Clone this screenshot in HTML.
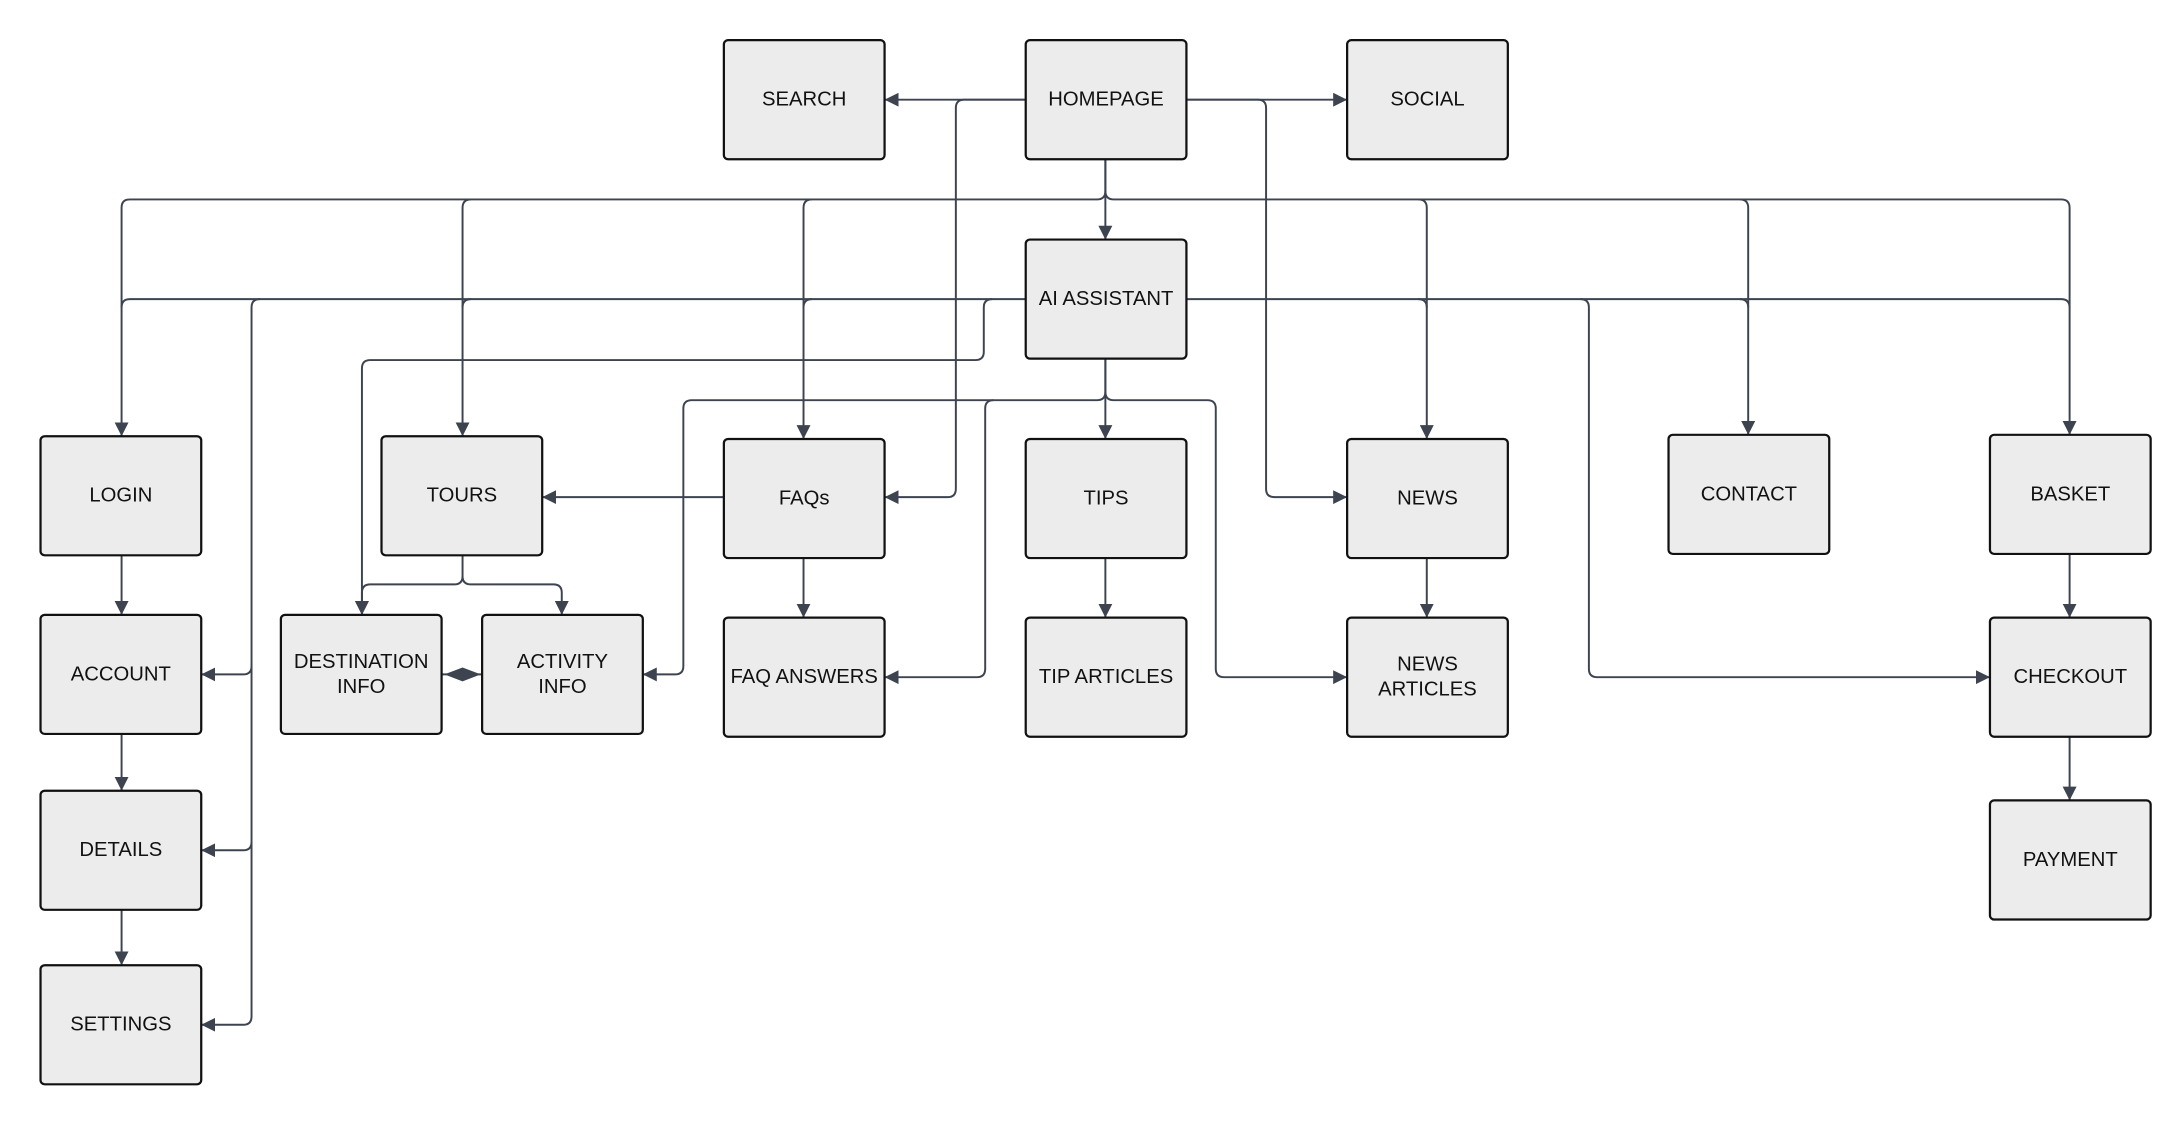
<!DOCTYPE html>
<html><head><meta charset="utf-8"><style>
html,body{margin:0;padding:0;background:#fff;width:2180px;height:1130px;overflow:hidden}
svg{display:block}
text{font-family:"Liberation Sans",sans-serif;font-size:14.5px;fill:#111;text-anchor:middle;dominant-baseline:central}
.b{fill:#ececec;stroke:#111;stroke-width:1.6}
.l{fill:none;stroke:#3d4450;stroke-width:1.4;stroke-linejoin:round}
</style></head><body>
<svg width="2180" height="1130" viewBox="0 0 1560 816" preserveAspectRatio="none">
<defs>
<marker id="a" markerUnits="userSpaceOnUse" markerWidth="12" markerHeight="10" refX="10" refY="5" orient="auto">
<path d="M0,0 L10,5 L0,10 z" fill="#3d4450"/></marker>
</defs>
<g class="l">
<!-- homepage side -->
<path d="M734,72 H633" marker-end="url(#a)"/>
<path d="M849,72 H964" marker-end="url(#a)"/>
<path d="M734,72 H690 Q684,72 684,78 V353 Q684,359 678,359 H633" marker-end="url(#a)"/>
<path d="M849,72 H900 Q906,72 906,78 V353 Q906,359 912,359 H964" marker-end="url(#a)"/>
<!-- homepage bottom bus -->
<path d="M791,115 V173" marker-end="url(#a)"/>
<path d="M791,115 V138 Q791,144 785,144 H93 Q87,144 87,150 V315" marker-end="url(#a)"/>
<path d="M337,144 Q331,144 331,150 V315" marker-end="url(#a)"/>
<path d="M581,144 Q575,144 575,150 V317" marker-end="url(#a)"/>
<path d="M791,138 Q791,144 797,144 H1475 Q1481,144 1481,150 V314" marker-end="url(#a)"/>
<path d="M1015,144 Q1021,144 1021,150 V317" marker-end="url(#a)"/>
<path d="M1245,144 Q1251,144 1251,150 V314" marker-end="url(#a)"/>
<!-- AI left -->
<path d="M734,216 H93 Q87,216 87,222"/>
<path d="M186,216 Q180,216 180,222 V734 Q180,740 174,740 H144" marker-end="url(#a)"/>
<path d="M180,481 Q180,487 174,487 H144" marker-end="url(#a)"/>
<path d="M180,608 Q180,614 174,614 H144" marker-end="url(#a)"/>
<path d="M337,216 Q331,216 331,222"/>
<path d="M581,216 Q575,216 575,222"/>
<path d="M710,216 Q704,216 704,222 V254 Q704,260 698,260 H265 Q259,260 259,266 V444" marker-end="url(#a)"/>
<!-- AI right -->
<path d="M849,216 H1475 Q1481,216 1481,222"/>
<path d="M1015,216 Q1021,216 1021,222"/>
<path d="M1245,216 Q1251,216 1251,222"/>
<path d="M1131,216 Q1137,216 1137,222 V483 Q1137,489 1143,489 H1424" marker-end="url(#a)"/>
<!-- AI bottom -->
<path d="M791,259 V317" marker-end="url(#a)"/>
<path d="M791,259 V283 Q791,289 785,289 H495 Q489,289 489,295 V481 Q489,487 483,487 H460" marker-end="url(#a)"/>
<path d="M711,289 Q705,289 705,295 V483 Q705,489 699,489 H633" marker-end="url(#a)"/>
<path d="M791,283 Q791,289 797,289 H864 Q870,289 870,295 V483 Q870,489 876,489 H964" marker-end="url(#a)"/>
<!-- tours -->
<path d="M518,359 H388" marker-end="url(#a)"/>
<path d="M331,401 V416 Q331,422 325,422 H265 Q259,422 259,428 V444" marker-end="url(#a)"/>
<path d="M331,416 Q331,422 337,422 H396 Q402,422 402,428 V444" marker-end="url(#a)"/>
<path d="M316,487 H345"/>
<!-- verticals -->
<path d="M87,401 V444" marker-end="url(#a)"/>
<path d="M87,530 V571" marker-end="url(#a)"/>
<path d="M87,657 V697" marker-end="url(#a)"/>
<path d="M575,403 V446" marker-end="url(#a)"/>
<path d="M791,403 V446" marker-end="url(#a)"/>
<path d="M1021,403 V446" marker-end="url(#a)"/>
<path d="M1481,400 V446" marker-end="url(#a)"/>
<path d="M1481,532 V578" marker-end="url(#a)"/>
</g>
<path d="M318,487 L331,482 L344,487 L331,492 z" fill="#3d4450"/>
<g>
<rect class="b" x="518" y="29" width="115" height="86" rx="3"/><text x="575.5" y="72">SEARCH</text>
<rect class="b" x="734" y="29" width="115" height="86" rx="3"/><text x="791.5" y="72">HOMEPAGE</text>
<rect class="b" x="964" y="29" width="115" height="86" rx="3"/><text x="1021.5" y="72">SOCIAL</text>
<rect class="b" x="734" y="173" width="115" height="86" rx="3"/><text x="791.5" y="216">AI ASSISTANT</text>
<rect class="b" x="29" y="315" width="115" height="86" rx="3"/><text x="86.5" y="358">LOGIN</text>
<rect class="b" x="273" y="315" width="115" height="86" rx="3"/><text x="330.5" y="358">TOURS</text>
<rect class="b" x="518" y="317" width="115" height="86" rx="3"/><text x="575.5" y="360">FAQs</text>
<rect class="b" x="734" y="317" width="115" height="86" rx="3"/><text x="791.5" y="360">TIPS</text>
<rect class="b" x="964" y="317" width="115" height="86" rx="3"/><text x="1021.5" y="360">NEWS</text>
<rect class="b" x="1194" y="314" width="115" height="86" rx="3"/><text x="1251.5" y="357">CONTACT</text>
<rect class="b" x="1424" y="314" width="115" height="86" rx="3"/><text x="1481.5" y="357">BASKET</text>
<rect class="b" x="29" y="444" width="115" height="86" rx="3"/><text x="86.5" y="487">ACCOUNT</text>
<rect class="b" x="201" y="444" width="115" height="86" rx="3"/><text x="258.5" y="478">DESTINATION</text><text x="258.5" y="496">INFO</text>
<rect class="b" x="345" y="444" width="115" height="86" rx="3"/><text x="402.5" y="478">ACTIVITY</text><text x="402.5" y="496">INFO</text>
<rect class="b" x="518" y="446" width="115" height="86" rx="3"/><text x="575.5" y="489">FAQ ANSWERS</text>
<rect class="b" x="734" y="446" width="115" height="86" rx="3"/><text x="791.5" y="489">TIP ARTICLES</text>
<rect class="b" x="964" y="446" width="115" height="86" rx="3"/><text x="1021.5" y="480">NEWS</text><text x="1021.5" y="498">ARTICLES</text>
<rect class="b" x="1424" y="446" width="115" height="86" rx="3"/><text x="1481.5" y="489">CHECKOUT</text>
<rect class="b" x="29" y="571" width="115" height="86" rx="3"/><text x="86.5" y="614">DETAILS</text>
<rect class="b" x="29" y="697" width="115" height="86" rx="3"/><text x="86.5" y="740">SETTINGS</text>
<rect class="b" x="1424" y="578" width="115" height="86" rx="3"/><text x="1481.5" y="621">PAYMENT</text>
</g>
</svg>
</body></html>
